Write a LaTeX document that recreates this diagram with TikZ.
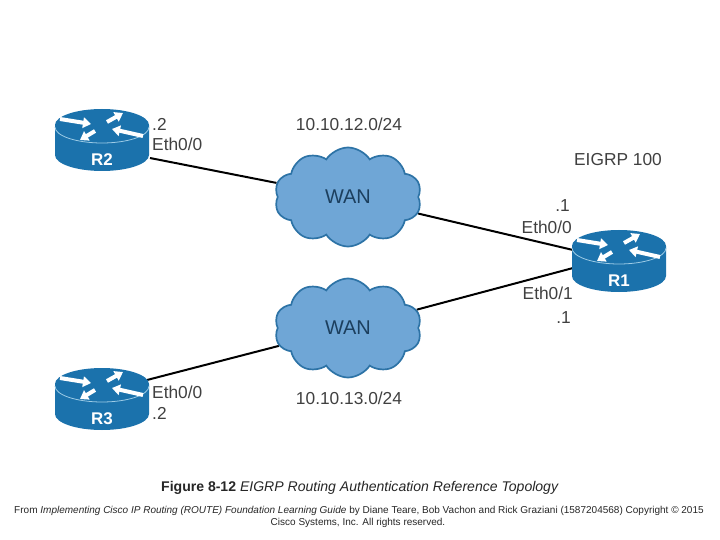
\documentclass[tikz,border=0pt]{standalone}
\usepackage{fontspec}
\setmainfont{Liberation Sans}
\usetikzlibrary{positioning}
\usetikzlibrary{arrows.meta}
\usetikzlibrary{backgrounds}
\usetikzlibrary{shapes.symbols}

\definecolor{routerblue}{HTML}{1B72AC}
\definecolor{routerline}{HTML}{9CCBE6}
\definecolor{cloudfill}{HTML}{6FA6D6}
\definecolor{cloudedge}{HTML}{2D73A6}
\definecolor{wantext}{HTML}{1C3F5E}
\definecolor{labeltext}{HTML}{404040}

\tikzset{
  lbl/.style={font=\fontsize{17.4}{20}\selectfont, text=labeltext, inner sep=0pt},
  wancloud/.style={cloud, cloud puffs=10, cloud puff arc=115, aspect=1.45, draw=cloudedge, line width=1.7bp,
    fill=cloudfill, text=wantext, inner sep=0pt, minimum width=147bp, minimum height=99bp,
    font=\fontsize{20}{22}\selectfont},
  link/.style={color=black, line width=2bp},
  routerarrow/.style={white, line width=4bp, -{Triangle[width=10.5bp,length=8bp]}},
}

% #1 name, #2 x, #3 y of the top disc
\newcommand{\routericon}[3]{
  \begin{scope}[shift={(#2,#3)}]
    \fill[routerblue] (-47,0) -- (-47,30) arc[start angle=180, end angle=0, x radius=47, y radius=16]
      -- (47,0) arc[start angle=0, end angle=-180, x radius=47, y radius=16] -- cycle;
    \draw[routerline, line width=.8bp] (-47,2) arc[start angle=180, end angle=0, x radius=47, y radius=16];
    \draw[routerarrow] (-42,-6)--(-11,-1);
    \draw[routerarrow] (5,-3)--(21,-12);
    \draw[routerarrow] (-7,6)--(-22,15);
    \draw[routerarrow] (41,11)--(10,4);
    \node(#1)[font=\bfseries\fontsize{17}{18}\selectfont, text=white, inner sep=0pt] at (0,35) {#1};
  \end{scope}
}

\begin{document}
\begin{tikzpicture}[x=1bp,y=-1bp]
\useasboundingbox (0,0) rectangle (720,540);

\routericon{R2}{102}{125}
\routericon{R3}{102}{384}
\routericon{R1}{619}{246}

\node(wanA)[wancloud] at (348,197) {WAN};
\node(wanB)[wancloud] at (348,328) {WAN};

\coordinate(portR2) at (150,158);
\coordinate(portR3) at (147,380);
\coordinate(portA) at (573,250);
\coordinate(portB) at (573,268);

\begin{scope}[on background layer]
\draw[link] (portR2)--(wanA);
\draw[link] (wanA)--(portA);
\draw[link] (portR3)--(wanB);
\draw[link] (wanB)--(portB);
\end{scope}

\node(netA)[lbl] at (349,124) {10.10.12.0/24};
\node(netB)[lbl] at (349,398) {10.10.13.0/24};
\node(eigrp)[lbl] at (618,160) {EIGRP 100};

\node(ipR2)[lbl, anchor=west] at (152,124) {.2};
\node(ethR2)[lbl, anchor=west] at (152,144) {Eth0/0};
\node(ethR3)[lbl, anchor=west] at (152,392) {Eth0/0};
\node(ipR3)[lbl, anchor=west] at (152,413) {.2};

\node(ipA)[lbl, anchor=east] at (570,206) {.1};
\node(ethA)[lbl, anchor=east] at (572,227) {Eth0/0};
\node(ethB)[lbl, anchor=east] at (573,293) {Eth0/1};
\node(ipB)[lbl, anchor=east] at (571,318) {.1};

\node(caption)[inner sep=0pt, font=\fontsize{14.1}{16}\selectfont, text=black!85] at (360,488)
  {\textbf{Figure 8-12} \textit{EIGRP Routing Authentication Reference Topology}};
\node(sourceA)[inner sep=0pt, font=\fontsize{10.05}{12}\selectfont, text=black!85] at (359,511)
  {From \textit{Implementing Cisco IP Routing (ROUTE) Foundation Learning Guide} by Diane Teare, Bob Vachon and Rick Graziani (1587204568) Copyright © 2015};
\node(sourceB)[inner sep=0pt, font=\fontsize{10.05}{12}\selectfont, text=black!85] at (358,523)
  {Cisco Systems, Inc. All rights reserved.};
\end{tikzpicture}
\end{document}
